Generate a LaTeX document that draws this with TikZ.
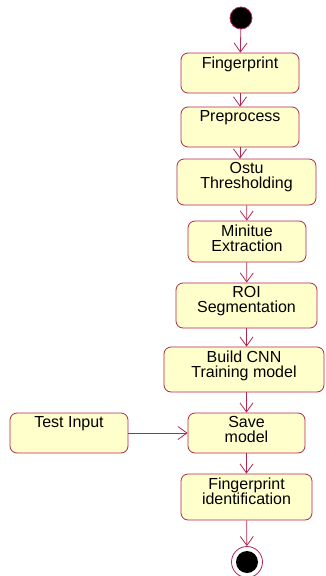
\documentclass[tikz,border=0pt]{standalone}
\usepackage{fontspec}
\setmainfont{Liberation Sans}
\usetikzlibrary{arrows.meta}
\usetikzlibrary{positioning}

\begin{document}
\begin{tikzpicture}[x=1pt,y=-1pt,>={Straight Barb[length=9pt,width=13pt]},
	line width=0.8pt,
	act node/.style={rectangle,rounded corners=7pt,draw=border,fill=actfill,inner sep=0pt},
	act text/.style={anchor=north,inner sep=0pt,align=center,
		font=\fontsize{16}{15}\selectfont,yshift=-3.5pt},
	flow/.style={draw=border,->}]
	
	\definecolor{border}{RGB}{176,40,80}
	\definecolor{actfill}{RGB}{255,255,204}
	
	\useasboundingbox (0,0) rectangle (325,576);
	
	\node[circle,fill=black,draw=border,minimum size=22pt,inner sep=0pt] (start) at (241,18) {};
	\node[act node,minimum width=118pt,minimum height=40pt,
		label={[act text]north:Fingerprint}] (fp) at (240,73) {};
	\node[act node,minimum width=118pt,minimum height=40pt,
		label={[act text]north:Preprocess}] (pre) at (240,127) {};
	\node[act node,minimum width=139pt,minimum height=46pt,
		label={[act text]north:Ostu\\Thresholding}] (ostu) at (246.5,182) {};
	\node[act node,minimum width=118pt,minimum height=41pt,
		label={[act text]north:Minitue\\Extraction}] (minu) at (247,241.5) {};
	\node[act node,minimum width=141pt,minimum height=45pt,
		label={[act text]north:ROI\\Segmentation}] (roi) at (246.5,305.5) {};
	\node[act node,minimum width=160pt,minimum height=45pt,
		label={[act text]north:Build CNN\\Training model}] (cnn) at (244,369.5) {};
	\node[act node,minimum width=117pt,minimum height=40pt,
		label={[act text]north:Save\\model}] (save) at (246.5,433) {};
	\node[act node,minimum width=118pt,minimum height=40pt,
		label={[act text]north:Test Input}] (test) at (69,433) {};
	\node[act node,minimum width=131pt,minimum height=46pt,
		label={[act text]north:Fingerprint\\identification}] (fid) at (246.5,497) {};
	\node[circle,draw=border,fill=white,minimum size=31pt,inner sep=0pt] (stop) at (247,562) {};
	\node[circle,fill=black,minimum size=22pt,inner sep=0pt] (stopin) at (stop) {};
	\coordinate (cnnout) at (cnn.south -| save);
	
	\path[every edge/.style=flow]
	(start) edge (fp)
	(fp) edge (pre)
	(pre) edge (pre |- ostu.north)
	(ostu) edge (minu)
	(minu) edge (roi)
	(roi) edge (roi |- cnn.north)
	(cnnout) edge (save.north)
	(test) edge (save)
	(save) edge (fid)
	(fid) edge (stop);
\end{tikzpicture}
\end{document}
